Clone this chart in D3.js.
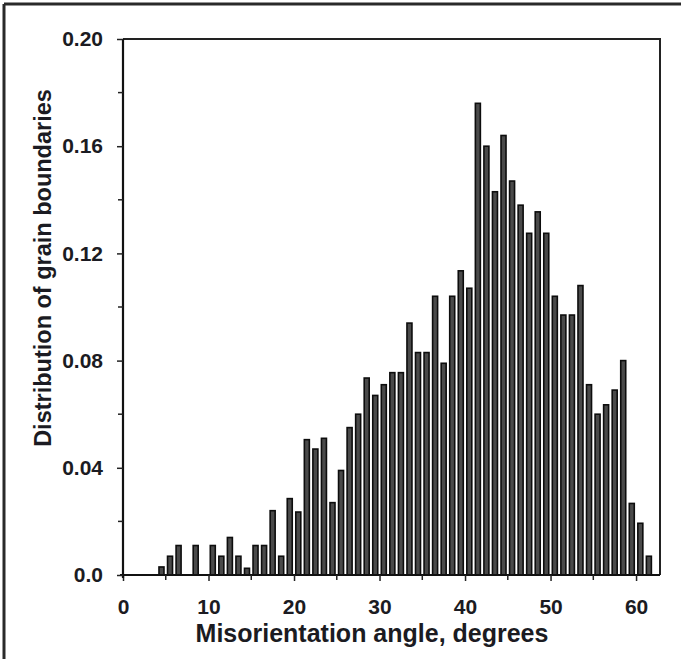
<!DOCTYPE html>
<html>
<head>
<meta charset="utf-8">
<script src="https://cdn.jsdelivr.net/npm/d3@7/dist/d3.min.js"></script>
<style>
  html, body { margin: 0; padding: 0; background: #fff; }
  svg { display: block; }
  text { font-family: "Liberation Sans", Arial, sans-serif; font-weight: bold; fill: #1b1b22; }
</style>
</head>
<body>
<svg id="chart" width="681" height="659"></svg>
<script>
// Misorientation histogram: one-degree bins, value = fraction of boundaries
const binStarts = [4, 5, 6, 8, 10, 11, 12, 13, 14, 15, 16, 17, 18, 19, 20,
  21, 22, 23, 24, 25, 26, 27, 28, 29, 30, 31, 32, 33, 34, 35, 36, 37, 38, 39, 40,
  41, 42, 43, 44, 45, 46, 47, 48, 49, 50, 51, 52, 53, 54, 55, 56, 57, 58, 59, 60, 61];
const fractions = [0.003, 0.007, 0.011, 0.011, 0.011, 0.007, 0.014, 0.007, 0.0025, 0.011, 0.011, 0.024, 0.007, 0.0285, 0.0235,
  0.0505, 0.047, 0.051, 0.027, 0.039, 0.055, 0.060, 0.0735, 0.067, 0.071, 0.0755, 0.0755, 0.094, 0.083, 0.083, 0.104, 0.079, 0.104, 0.1135, 0.107,
  0.176, 0.160, 0.143, 0.164, 0.147, 0.138, 0.1275, 0.1355, 0.1275, 0.104, 0.097, 0.097, 0.108, 0.071, 0.060, 0.0635, 0.069, 0.080, 0.0267, 0.0193, 0.007];

const xMajorTicks = [0, 10, 20, 30, 40, 50, 60];
const xMinorTicks = [5, 15, 25, 35, 45, 55];
const yMajorTicks = [0.0, 0.04, 0.08, 0.12, 0.16, 0.20];
const yMinorTicks = [0.02, 0.06, 0.10, 0.14, 0.18];
const yTickLabels = ["0.0", "0.04", "0.08", "0.12", "0.16", "0.20"];

const xTitle = "Misorientation angle, degrees";
const yTitle = "Distribution of grain boundaries";

const svg = d3.select("#chart");
const plot = { left: 123, right: 660, top: 39, bottom: 575 };

const x = d3.scaleLinear().domain([0, 62.8]).range([plot.left, plot.right]);
const y = d3.scaleLinear().domain([0, 0.20]).range([plot.bottom, plot.top]);

// outer frame (top and left edges)
svg.append("line").attr("x1", 4).attr("x2", 681).attr("y1", 4).attr("y2", 4)
  .attr("stroke", "#2a2a2a").attr("stroke-width", 3);
svg.append("line").attr("x1", 4).attr("x2", 4).attr("y1", 4).attr("y2", 659)
  .attr("stroke", "#2a2a2a").attr("stroke-width", 3);

// bars
const barW = 5;
svg.append("g").selectAll("rect")
  .data(binStarts.map((b, i) => ({ b, v: fractions[i] })))
  .join("rect")
  .attr("x", d => x(d.b + 0.5) - barW / 2)
  .attr("width", barW)
  .attr("y", d => y(d.v))
  .attr("height", d => y(0) - y(d.v))
  .attr("fill", "#4a4a4a")
  .attr("stroke", "#0d0d0d")
  .attr("stroke-width", 1.6);

// plot box: top and right edges
svg.append("path")
  .attr("d", `M${plot.left},${plot.top}H${plot.right}V${plot.bottom}`)
  .attr("fill", "none").attr("stroke", "#222").attr("stroke-width", 2);

// x axis
const xAxis = svg.append("g").attr("transform", `translate(0,${plot.bottom})`)
  .call(d3.axisBottom(x).tickValues(xMajorTicks).tickSize(6).tickPadding(18)
    .tickFormat(d3.format("d")));
xAxis.append("g").selectAll("line").data(xMinorTicks).join("line")
  .attr("x1", d => x(d)).attr("x2", d => x(d)).attr("y1", 0).attr("y2", 5)
  .attr("stroke", "#222").attr("stroke-width", 1.5);

// y axis
const yAxis = svg.append("g").attr("transform", `translate(${plot.left},0)`)
  .call(d3.axisLeft(y).tickValues(yMajorTicks).tickSize(6).tickPadding(14)
    .tickFormat((d, i) => yTickLabels[i]));
yAxis.append("g").selectAll("line").data(yMinorTicks).join("line")
  .attr("x1", 0).attr("x2", -5).attr("y1", d => y(d)).attr("y2", d => y(d))
  .attr("stroke", "#222").attr("stroke-width", 1.5);

[xAxis, yAxis].forEach(g => {
  g.select(".domain").attr("stroke", "#111").attr("stroke-width", 2.2);
  g.selectAll(".tick line").attr("stroke", "#222").attr("stroke-width", 1.5);
  g.selectAll(".tick text").attr("font-size", 21).attr("fill", "#1b1b22")
    .attr("font-family", "'Liberation Sans', Arial, sans-serif").attr("font-weight", "bold");
});
xAxis.select(".domain").attr("d", `M${plot.left - 3},0H${plot.right}`);
yAxis.select(".domain").attr("d", `M0,${plot.bottom + 3}V${plot.top}`);

// axis titles
svg.append("text").attr("x", 372).attr("y", 642).attr("text-anchor", "middle")
  .attr("font-size", 25).text(xTitle);
svg.append("text").attr("transform", `translate(51,268) rotate(-90)`)
  .attr("text-anchor", "middle").attr("font-size", 23.5).text(yTitle);
</script>
</body>
</html>
